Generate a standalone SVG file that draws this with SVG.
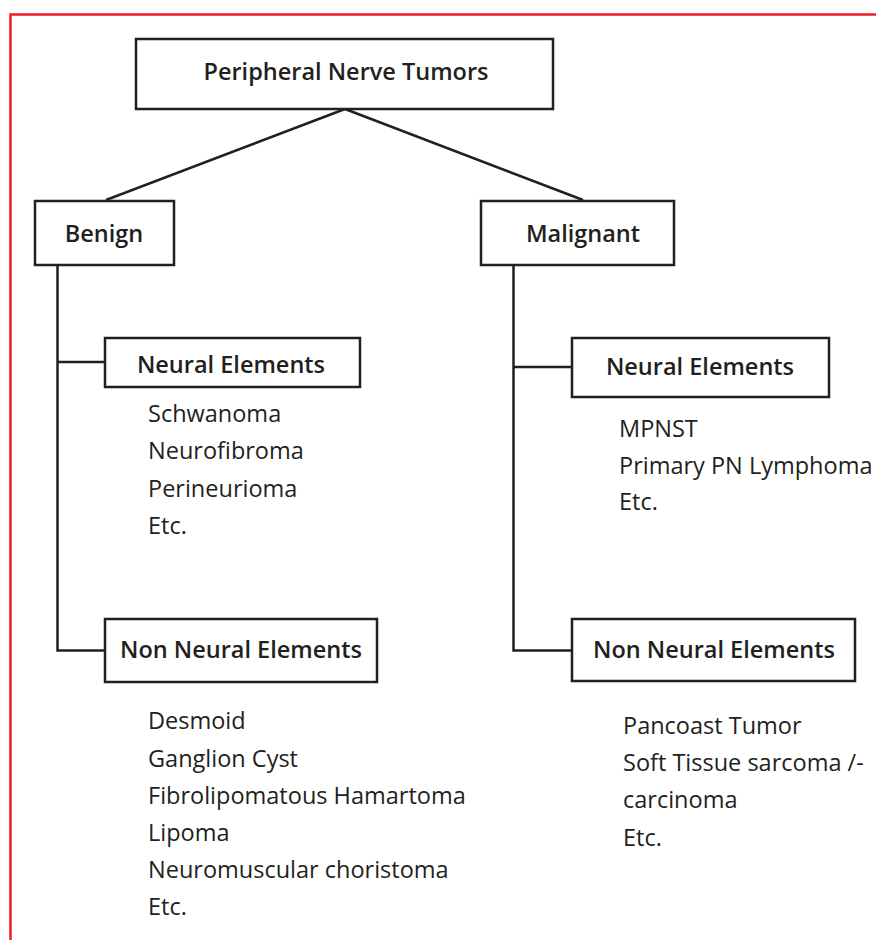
<svg xmlns="http://www.w3.org/2000/svg" width="876" height="940" viewBox="0 0 876 940">
<style>
.frame{fill:none;stroke:#ed1c24;stroke-width:2.5}
.box{fill:#fff;stroke:#231f20;stroke-width:2.5}
.conn{fill:none;stroke:#231f20;stroke-width:2.5}
.h{font-family:"Open Sans","Noto Sans","Liberation Sans",sans-serif;font-size:23.5px;font-weight:600;fill:#231f20;text-anchor:middle}
.t{font-family:"Open Sans","Noto Sans","Liberation Sans",sans-serif;font-size:23.5px;font-weight:400;fill:#231f20}
</style>
<rect width="876" height="940" fill="#fff"/>
<path class="frame" d="M10.5,940 V14.5 H876"/>
<g id="connectors">
<path class="conn" d="M345,109 L106,200"/>
<path class="conn" d="M345,109 L583,200"/>
<path class="conn" d="M57.5,265 V650.5 H105"/>
<path class="conn" d="M57.5,362 H105"/>
<path class="conn" d="M513.5,265 V650.5 H572"/>
<path class="conn" d="M513.5,367 H572"/>
</g>
<g id="root">
<rect class="box" x="136" y="39" width="417" height="70"/>
<text class="h" x="346" y="80">Peripheral Nerve Tumors</text>
</g>
<g id="benign">
<rect class="box" x="35" y="201" width="139" height="64"/>
<text class="h" x="104" y="242">Benign</text>
</g>
<g id="malignant">
<rect class="box" x="481" y="201" width="193" height="64"/>
<text class="h" x="583" y="242">Malignant</text>
</g>
<g id="benign-neural">
<rect class="box" x="105" y="338" width="255" height="49"/>
<text class="h" x="231" y="373">Neural Elements</text>
<text class="t" x="148" y="422">Schwanoma</text>
<text class="t" x="148" y="459">Neurofibroma</text>
<text class="t" x="148" y="497">Perineurioma</text>
<text class="t" x="148" y="534">Etc.</text>
</g>
<g id="benign-nonneural">
<rect class="box" x="105" y="619" width="272" height="63"/>
<text class="h" x="241" y="658">Non Neural Elements</text>
<text class="t" x="148" y="729">Desmoid</text>
<text class="t" x="148" y="767">Ganglion Cyst</text>
<text class="t" x="148" y="804">Fibrolipomatous Hamartoma</text>
<text class="t" x="148" y="841">Lipoma</text>
<text class="t" x="148" y="878">Neuromuscular choristoma</text>
<text class="t" x="148" y="915">Etc.</text>
</g>
<g id="malignant-neural">
<rect class="box" x="572" y="338" width="257" height="59"/>
<text class="h" x="700" y="375">Neural Elements</text>
<text class="t" x="619" y="437">MPNST</text>
<text class="t" x="619" y="474">Primary PN Lymphoma</text>
<text class="t" x="619" y="510">Etc.</text>
</g>
<g id="malignant-nonneural">
<rect class="box" x="572" y="619" width="283" height="62"/>
<text class="h" x="714" y="658">Non Neural Elements</text>
<text class="t" x="623" y="734">Pancoast Tumor</text>
<text class="t" x="623" y="771">Soft Tissue sarcoma /-</text>
<text class="t" x="623" y="808">carcinoma</text>
<text class="t" x="623" y="846">Etc.</text>
</g>
</svg>
